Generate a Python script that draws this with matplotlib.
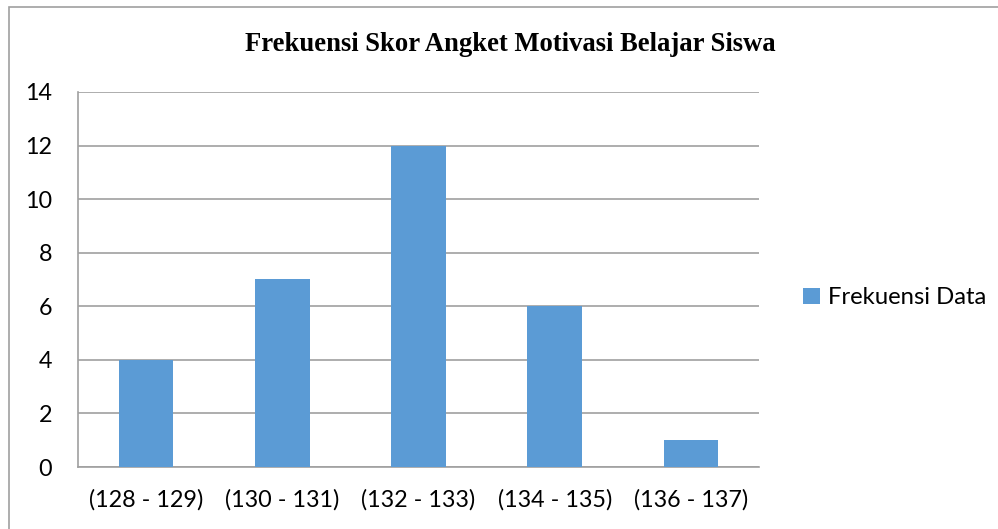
import matplotlib.pyplot as plt
from matplotlib.patches import Rectangle

# data
categories = ["(128 - 129)", "(130 - 131)", "(132 - 133)", "(134 - 135)", "(136 - 137)"]
frekuensi = [4, 7, 12, 6, 1]
y_ticks = [0, 2, 4, 6, 8, 10, 12, 14]

plt.rcParams['font.family'] = ['Lato', 'DejaVu Sans']

fig = plt.figure(figsize=(9.98, 5.29), dpi=100)
ax = fig.add_axes([0.0782, 0.1172, 0.6823, 0.7089])

ax.bar(range(len(categories)), frekuensi, width=0.4, color="#5B9BD5",
       label="Frekuensi Data", zorder=3)
ax.set_xlim(-0.5, len(categories) - 0.5)
ax.set_ylim(0, 14)
ax.set_yticks(y_ticks)
ax.set_xticks(range(len(categories)))
ax.set_xticklabels(categories)
ax.tick_params(axis='both', length=0, labelsize=16.8, colors="black")
ax.tick_params(axis='y', pad=18.5)
ax.tick_params(axis='x', pad=16)
ax.grid(axis='y', color="#A0A0A0", linewidth=1.2, zorder=0)

for side in ['top', 'right']:
    ax.spines[side].set_visible(False)
for side in ['left', 'bottom']:
    ax.spines[side].set_color("#A0A0A0")
    ax.spines[side].set_linewidth(1.2)

fig.text(0.511, 0.915, "Frekuensi Skor Angket Motivasi Belajar Siswa",
         ha='center', va='center', fontsize=19.2, fontweight='bold',
         family='Liberation Serif')

fig.legend(loc='center left', bbox_to_anchor=(0.783, 0.437), frameon=False,
           fontsize=17.2, handlelength=0.7, handleheight=0.7, handletextpad=0.35)

# outer chart border
fig.patches.append(Rectangle((0.009, -0.01), 1.2, 0.997, transform=fig.transFigure,
                             fill=False, edgecolor="#A0A0A0", linewidth=1.2))

fig.savefig("out.png", dpi=100)
